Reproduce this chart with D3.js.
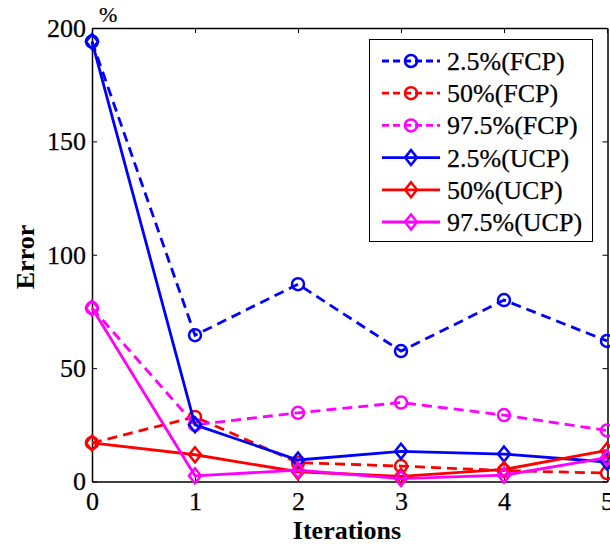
<!DOCTYPE html>
<html>
<head>
<meta charset="utf-8">
<script src="https://cdn.jsdelivr.net/npm/d3@7"></script>
<style>
  html, body { margin: 0; padding: 0; background: #fff; }
  svg { display: block; }
</style>
</head>
<body>
<svg id="chart" width="610" height="547"></svg>
<script>
// ---- data ----
const iterations = [0, 1, 2, 3, 4, 5];
const xTicks = [0, 1, 2, 3, 4, 5];
const yTicks = [0, 50, 100, 150, 200];
const seriesNames = ["2.5%(FCP)", "50%(FCP)", "97.5%(FCP)", "2.5%(UCP)", "50%(UCP)", "97.5%(UCP)"];
const fcp2_5  = [194, 64.5, 87, 57.5, 80, 62];
const fcp50   = [17, 28.5, 8.3, 6.8, 4.8, 3.7];
const fcp97_5 = [76.5, 25, 30.3, 34.8, 29.3, 22.5];
const ucp2_5  = [194, 25, 9.5, 13.3, 12.1, 8.6];
const ucp50   = [17, 11.8, 4.3, 2.3, 5.3, 13.7];
const ucp97_5 = [76.5, 2.5, 5, 1.3, 2.8, 10.5];

const seriesValues = [fcp2_5, fcp50, fcp97_5, ucp2_5, ucp50, ucp97_5];
const seriesColors = ["#0000ff", "#ff0000", "#ff00ff", "#0000ff", "#ff0000", "#ff00ff"];
const seriesDashed = [true, true, true, false, false, false];
const seriesMarker = ["circle", "circle", "circle", "diamond", "diamond", "diamond"];

const FONT = "'Liberation Serif', 'Times New Roman', serif";

// ---- layout ----
const svg = d3.select("#chart");
const L = 92, R = 607.5, T = 28, B = 481.5;
const x = d3.scaleLinear().domain([0, 5]).range([L, R - 0.5]);
const y = d3.scaleLinear().domain([0, 200]).range([B, T]);

const axisStyle = g => {
  g.attr("font-family", null).attr("font-size", null);
  g.select(".domain").attr("stroke", "#000").attr("stroke-width", 1.5);
  g.selectAll(".tick line").attr("stroke", "#000").attr("stroke-width", 1);
  g.selectAll("text").style("font-family", FONT).style("font-size", "26px")
    .attr("fill", "#000").attr("stroke", "#000").attr("stroke-width", 0.25);
};

svg.append("g").attr("transform", `translate(0,${B})`)
  .call(d3.axisBottom(x).tickValues(xTicks).tickSize(-5).tickPadding(10).tickSizeOuter(0).tickFormat(d3.format("d")))
  .call(axisStyle);
svg.append("g").attr("transform", `translate(${L},0)`)
  .call(d3.axisLeft(y).tickValues(yTicks).tickSize(-5).tickPadding(6).tickSizeOuter(0).tickFormat(d3.format("d")))
  .call(axisStyle);
svg.append("g").attr("transform", `translate(0,${T})`)
  .call(d3.axisTop(x).tickValues(xTicks).tickSize(-5).tickSizeOuter(0).tickFormat(""))
  .call(axisStyle);
svg.append("g").attr("transform", `translate(${R},0)`)
  .call(d3.axisRight(y).tickValues(yTicks).tickSize(-5).tickSizeOuter(0).tickFormat(""))
  .call(axisStyle);

// axis titles
svg.append("text").attr("x", 347).attr("y", 539).attr("text-anchor", "middle")
  .style("font-family", FONT).style("font-size", "26px").style("font-weight", "bold").text("Iterations");
svg.append("text").attr("transform", "translate(34,257) rotate(-90)").attr("text-anchor", "middle")
  .style("font-family", FONT).style("font-size", "26px").style("font-weight", "bold").text("Error");
svg.append("text").attr("x", 99).attr("y", 22)
  .style("font-family", FONT).style("font-size", "22px").attr("stroke", "#000").attr("stroke-width", 0.2).text("%");

// lines
const line = d3.line().x((d, i) => x(iterations[i])).y(d => y(d));

function drawMarker(g, type, cx, cy, color) {
  if (type === "circle") {
    g.append("circle").attr("cx", cx).attr("cy", cy).attr("r", 6)
      .attr("fill", "none").attr("stroke", color).attr("stroke-width", 2.5);
  } else {
    const w = 6, h = 7.5;
    g.append("path").attr("d", `M${cx},${cy - h}L${cx + w},${cy}L${cx},${cy + h}L${cx - w},${cy}Z`)
      .attr("fill", "none").attr("stroke", color).attr("stroke-width", 2.5);
  }
}

const plot = svg.append("g");
seriesValues.forEach((vals, s) => {
  const g = plot.append("g");
  g.append("path").datum(vals).attr("d", line)
    .attr("fill", "none").attr("stroke", seriesColors[s]).attr("stroke-width", 2.8)
    .attr("stroke-dasharray", seriesDashed[s] ? "10,6" : null);
  vals.forEach((v, i) => drawMarker(g, seriesMarker[s], x(iterations[i]), y(v), seriesColors[s]));
});

// legend
const lg = svg.append("g");
lg.append("rect").attr("x", 369.5).attr("y", 39.5).attr("width", 223).attr("height", 202)
  .attr("fill", "#fff").attr("stroke", "#000").attr("stroke-width", 1);
const rowY = d3.scaleLinear().domain([0, 5]).range([61, 222]);
seriesNames.forEach((name, s) => {
  const cy = rowY(s);
  lg.append("line").attr("x1", 382).attr("x2", 440).attr("y1", cy).attr("y2", cy)
    .attr("stroke", seriesColors[s]).attr("stroke-width", 2.8)
    .attr("stroke-dasharray", seriesDashed[s] ? "7,4" : null);
  drawMarker(lg, seriesMarker[s], 411, cy, seriesColors[s]);
  lg.append("text").attr("x", 447).attr("y", cy + 9)
    .style("font-family", FONT).style("font-size", "26px")
    .attr("stroke", "#000").attr("stroke-width", 0.25).text(name);
});
</script>
</body>
</html>
